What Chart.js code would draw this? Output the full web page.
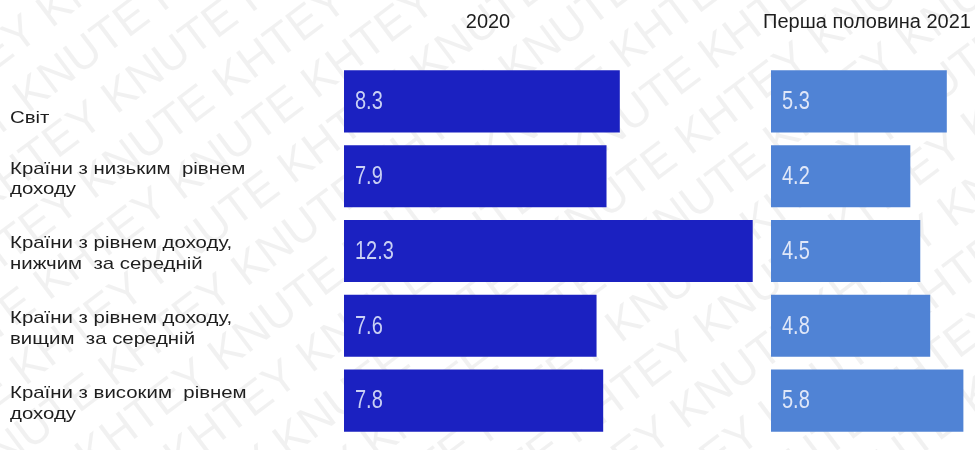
<!DOCTYPE html>
<html lang="uk">
<head>
<meta charset="utf-8">
<script src="https://cdn.jsdelivr.net/npm/chart.js@4/dist/chart.umd.min.js"></script>
<style>
    html, body { margin: 0; padding: 0; background: #ffffff; }
    #wrap { position: relative; width: 975px; height: 450px; }
</style>
</head>
<body>
<div id="wrap"><canvas id="incomeChart" width="975" height="450"></canvas></div>
<script>
// Групи країн (підписи по рядках)
const categories = [
    ['Світ'],
    ['Країни з низьким  рівнем', 'доходу'],
    ['Країни з рівнем доходу,', 'нижчим  за середній'],
    ['Країни з рівнем доходу,', 'вищим  за середній'],
    ['Країни з високим  рівнем', 'доходу']
];
const periods = ['2020', 'Перша половина 2021'];
const values2020 = [8.3, 7.9, 12.3, 7.6, 7.8];
const values2021 = [5.3, 4.2, 4.5, 4.8, 5.8];

document.addEventListener('DOMContentLoaded', function () {
    // Фон з водяним знаком
    const watermarkPlugin = {
        id: 'watermark',
        beforeDraw: (chart) => {
            const {ctx, width, height} = chart;
            ctx.save();
            ctx.fillStyle = '#ffffff';
            ctx.fillRect(0, 0, width, height);
            ctx.translate(width / 2, height / 2);
            ctx.rotate(-37 * Math.PI / 180);
            ctx.font = '46px "Liberation Sans", Arial, sans-serif';
            ctx.fillStyle = 'rgba(0, 0, 0, 0.055)';
            ctx.textBaseline = 'middle';
            const row = 'KNUTE KHTEY KNUTE KHTEY KNUTE KHTEY KNUTE KHTEY KNUTE KHTEY';
            for (let i = -8; i <= 8; i++) {
                const shift = (i % 2 === 0) ? 0 : -70;
                ctx.fillText(row, -900 + shift, i * 54);
            }
            ctx.restore();
        }
    };

    // Підписи категорій: трохи розтягнутий по ширині шрифт
    const categoryPlugin = {
        id: 'categoryLabels',
        afterDraw: (chart) => {
            const {ctx} = chart;
            const yScale = chart.scales.y;
            const pitch = 20.5;
            ctx.save();
            ctx.font = '17px "Liberation Sans", Arial, sans-serif';
            ctx.fillStyle = '#1e1e1e';
            ctx.textAlign = 'left';
            ctx.textBaseline = 'middle';
            categories.forEach((lines, i) => {
                const center = yScale.getPixelForValue(i) + 3;
                // одиночний рядок стоїть нижче середини смуги
                const first = lines.length === 1 ? center + pitch / 2 + 4 : center - pitch / 2;
                lines.forEach((line, k) => {
                    ctx.save();
                    ctx.translate(10, first + k * pitch);
                    ctx.scale(1.2, 1);
                    ctx.fillText(line, 0, 0);
                    ctx.restore();
                });
            });
            ctx.restore();
        }
    };

    // Заголовки колонок і значення всередині смуг
    const labelsPlugin = {
        id: 'barLabels',
        afterDatasetsDraw: (chart) => {
            const {ctx} = chart;
            const colors = ['#c9d0f4', '#e0e7f8'];
            ctx.save();
            ctx.font = '25px "Liberation Sans", Arial, sans-serif';
            ctx.textBaseline = 'middle';
            ctx.textAlign = 'left';
            chart.data.datasets.forEach((ds, di) => {
                ctx.fillStyle = colors[di];
                chart.getDatasetMeta(di).data.forEach((bar, i) => {
                    // вузький шрифт: стискаємо по горизонталі
                    ctx.save();
                    ctx.translate(bar.base + 11, bar.y + 1);
                    ctx.scale(0.8, 1);
                    ctx.fillText(String(ds.data[i]), 0, 0);
                    ctx.restore();
                });
            });

            ctx.font = '20px "Liberation Sans", Arial, sans-serif';
            ctx.fillStyle = '#1e1e1e';
            ctx.textAlign = 'center';
            ctx.fillText(periods[0], chart.scales.x.left + 144, 22);
            ctx.fillText(periods[1], chart.scales.x2.left + 96, 22);
            ctx.restore();
        }
    };

    const ctx = document.getElementById('incomeChart').getContext('2d');
    const incomeChart = new Chart(ctx, {
        type: 'bar',
        data: {
            labels: categories,
            datasets: [{
                label: periods[0],
                data: values2020,
                xAxisID: 'x',
                backgroundColor: '#1b21c1',
                grouped: false,
                categoryPercentage: 1,
                barPercentage: 0.83
            }, {
                label: periods[1],
                data: values2021,
                xAxisID: 'x2',
                backgroundColor: '#5083d5',
                grouped: false,
                categoryPercentage: 1,
                barPercentage: 0.83
            }]
        },
        options: {
            indexAxis: 'y',
            responsive: false,
            animation: false,
            layout: {
                padding: {top: 64, left: 10, right: 0, bottom: 12}
            },
            scales: {
                x: {
                    position: 'bottom',
                    stack: 'periods',
                    stackWeight: 427,
                    min: 0,
                    max: 12.85,
                    display: false
                },
                x2: {
                    position: 'bottom',
                    stack: 'periods',
                    stackWeight: 204,
                    min: 0,
                    max: 6.15,
                    display: false
                },
                y: {
                    grid: {display: false, drawTicks: false},
                    border: {display: false},
                    ticks: {display: false},
                    afterFit: (scale) => {
                        scale.width = 334;
                        scale.paddingTop = 0;
                        scale.paddingBottom = 0;
                    }
                }
            },
            plugins: {
                legend: {display: false},
                tooltip: {enabled: false}
            }
        },
        plugins: [watermarkPlugin, labelsPlugin, categoryPlugin]
    });
});
</script>
</body>
</html>
